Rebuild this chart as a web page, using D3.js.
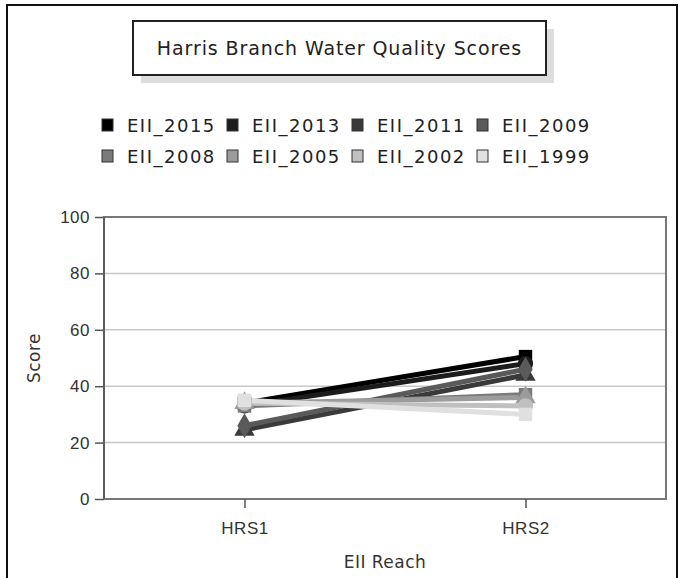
<!doctype html>
<html>
  <head>
    <script src="https://cdn.jsdelivr.net/npm/d3@7/dist/d3.min.js"></script>
    <style>
      body, html { margin: 0; background: #fff; }
      svg { display: block; font-family: "DejaVu Sans", sans-serif; }
      .grid line { stroke: #c8c8c8; stroke-width: 1.5px; }
      .axis text { font-size: 17px; fill: #333; letter-spacing: 0.5px; }
      .axis path, .axis line { stroke: #555; stroke-width: 1.5px; }
    </style>
  </head>
  <body>
    <svg width="681" height="578"></svg>
    <script>
      // data
      var reaches = ["HRS1", "HRS2"];
      var seriesNames = ["EII_2015", "EII_2013", "EII_2011", "EII_2009", "EII_2008", "EII_2005", "EII_2002", "EII_1999"];
      var seriesColors = ["#000000", "#1c1c1c", "#3a3a3a", "#5a5a5a", "#7a7a7a", "#9c9c9c", "#c0c0c0", "#e0e0e0"];
      var scores = [
        [34, 50.5],
        [33, 48],
        [24.5, 44],
        [26, 46],
        [33, 37],
        [34, 36],
        [34, 33],
        [35, 30]
      ];
      var yTicks = [0, 20, 40, 60, 80, 100];

      var svg = d3.select("svg");

      // outer frame
      svg.append("rect").attr("x", 7).attr("y", 5).attr("width", 670).attr("height", 600)
        .attr("fill", "#fff").attr("stroke", "#111").attr("stroke-width", 2);

      // title box with shadow
      svg.append("rect").attr("x", 141).attr("y", 29).attr("width", 413).attr("height", 54).attr("fill", "#ddd");
      svg.append("rect").attr("x", 133).attr("y", 21).attr("width", 413).attr("height", 54)
        .attr("fill", "#fff").attr("stroke", "#222").attr("stroke-width", 2);
      svg.append("text").attr("x", 339.5).attr("y", 55).attr("text-anchor", "middle")
        .style("font-size", "19px").style("letter-spacing", "0.9px").attr("fill", "#222")
        .text("Harris Branch Water Quality Scores");

      // legend
      var legend = svg.append("g");
      seriesNames.forEach((name, i) => {
        var lx = 102 + (i % 4) * 125, ly = 119 + Math.floor(i / 4) * 31;
        legend.append("rect").attr("x", lx).attr("y", ly).attr("width", 11).attr("height", 12)
          .attr("fill", seriesColors[i]).attr("stroke", "#333").attr("stroke-width", 1);
        legend.append("text").attr("x", lx + 25).attr("y", ly + 13)
          .style("font-size", "18px").style("letter-spacing", "1.5px").attr("fill", "#222").text(name);
      });

      // plot area
      var pLeft = 104, pRight = 666, pTop = 217, pBottom = 499;
      var x = d3.scalePoint().domain(reaches).range([pLeft, pRight]).padding(0.5);
      var y = d3.scaleLinear().domain([0, 100]).range([pBottom, pTop]);

      svg.append("g").attr("class", "grid")
        .selectAll("line").data(yTicks.slice(1)).join("line")
        .attr("x1", pLeft).attr("x2", pRight).attr("y1", d => y(d)).attr("y2", d => y(d));

      svg.append("rect").attr("x", pLeft).attr("y", pTop).attr("width", pRight - pLeft).attr("height", pBottom - pTop)
        .attr("fill", "none").attr("stroke", "#777").attr("stroke-width", 2);

      svg.append("g").attr("class", "axis").attr("transform", "translate(" + pLeft + ",0)")
        .call(d3.axisLeft(y).tickValues(yTicks).tickSize(9).tickPadding(5))
        .call(g => g.select(".domain").attr("d", "M0," + pTop + "V" + pBottom));

      svg.append("g").attr("class", "axis").attr("transform", "translate(0," + pBottom + ")")
        .call(d3.axisBottom(x).tickSize(9).tickPadding(14))
        .call(g => g.select(".domain").remove());

      svg.append("text").attr("transform", "translate(40," + ((pTop + pBottom) / 2) + ") rotate(-90)")
        .attr("text-anchor", "middle").style("font-size", "17px").style("letter-spacing", "0.5px")
        .attr("fill", "#333").text("Score");
      svg.append("text").attr("x", (pLeft + pRight) / 2).attr("y", 568).attr("text-anchor", "middle")
        .style("font-size", "17px").style("letter-spacing", "0.5px").attr("fill", "#333").text("EII Reach");

      // series: all lines first, then all markers on top
      var symbolTypes = [d3.symbolSquare, d3.symbolCircle, d3.symbolTriangle, d3.symbolDiamond,
        d3.symbolSquare, d3.symbolTriangle, d3.symbolCircle, d3.symbolSquare];
      var line = d3.line().x((d, i) => x(reaches[i])).y(d => y(d));
      var plot = svg.append("g");
      var order = d3.range(seriesNames.length);
      order.forEach(i => {
        plot.append("path").attr("d", line(scores[i])).attr("fill", "none")
          .attr("stroke", seriesColors[i]).attr("stroke-width", 5);
      });
      order.forEach(i => {
        scores[i].forEach((v, j) => {
          plot.append("path")
            .attr("transform", "translate(" + x(reaches[j]) + "," + y(v) + ")")
            .attr("d", d3.symbol().type(symbolTypes[i]).size(180)())
            .attr("fill", seriesColors[i]);
        });
      });
    </script>
  </body>
</html>
